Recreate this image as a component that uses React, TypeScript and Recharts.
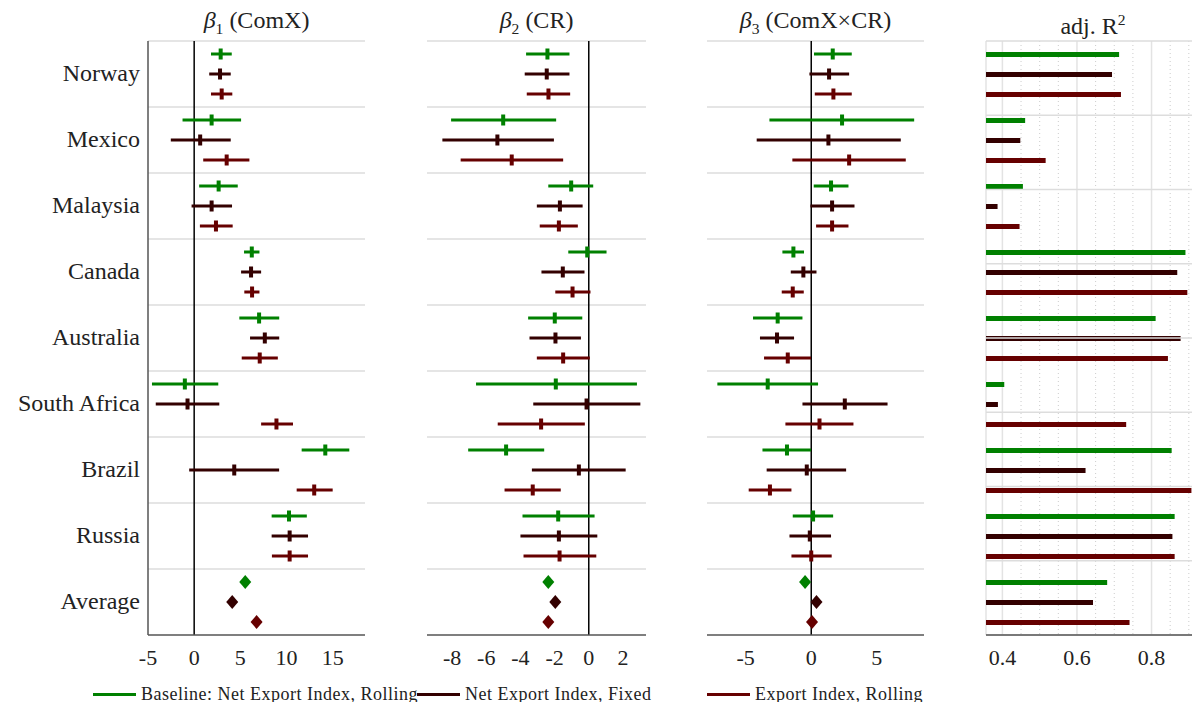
import React from 'react';
import {
  ScatterChart,
  Scatter,
  BarChart,
  Bar,
  XAxis,
  YAxis,
  ErrorBar,
  ReferenceLine,
  CartesianGrid,
} from 'recharts';

const COUNTRIES = ['Norway', 'Mexico', 'Malaysia', 'Canada', 'Australia', 'South Africa', 'Brazil', 'Russia'];
const ROWS = [...COUNTRIES, 'Average'];
const SERIES_NAMES = ['Baseline: Net Export Index, Rolling', 'Net Export Index, Fixed', 'Export Index, Rolling'];
const COLORS = ['#008000', '#330000', '#660000'];

// [estimate, lower, upper] per country
const B1_BASE = [[2.87, 1.82, 4.07], [1.89, -1.26, 5.08], [2.65, 0.54, 4.72], [6.24, 5.4, 7.07], [7.03, 4.89, 9.21], [-1.01, -4.57, 2.61], [14.2, 11.64, 16.8], [10.27, 8.39, 12.2]];
const B1_FIXED = [[2.8, 1.63, 3.96], [0.65, -2.53, 3.96], [1.89, -0.28, 4.1], [6.16, 5.08, 7.25], [7.65, 6.05, 9.21], [-0.72, -4.16, 2.72], [4.34, -0.54, 9.2], [10.34, 8.39, 12.33]];
const B1_EXPORT = [[2.98, 1.82, 4.13], [3.52, 0.98, 5.98], [2.36, 0.62, 4.17], [6.27, 5.43, 7.07], [7.1, 5.15, 9.06], [8.91, 7.25, 10.7], [13.0, 11.1, 15.0], [10.34, 8.42, 12.33]];
const B1_AVG = [5.53, 4.12, 6.76];

const B2_BASE = [[-2.42, -3.67, -1.13], [-5.01, -8.06, -1.91], [-1.03, -2.37, 0.26], [-0.09, -1.2, 1.04], [-1.99, -3.55, -0.38], [-1.93, -6.6, 2.82], [-4.84, -7.06, -2.61], [-1.79, -3.88, 0.34]];
const B2_FIXED = [[-2.46, -3.75, -1.13], [-5.35, -8.57, -2.04], [-1.69, -3.04, -0.36], [-1.52, -2.77, -0.25], [-1.95, -3.47, -0.46], [-0.13, -3.25, 3.02], [-0.58, -3.33, 2.16], [-1.75, -4.0, 0.5]];
const B2_EXPORT = [[-2.36, -3.63, -1.09], [-4.51, -7.5, -1.5], [-1.75, -2.87, -0.64], [-0.95, -1.96, 0.1], [-1.5, -3.04, 0.06], [-2.79, -5.33, -0.23], [-3.28, -4.93, -1.64], [-1.71, -3.82, 0.44]];
const B2_AVG = [-2.37, -1.96, -2.37];

const B3_BASE = [[1.64, 0.21, 3.09], [2.35, -3.19, 7.85], [1.51, 0.19, 2.84], [-1.36, -2.2, -0.55], [-2.56, -4.44, -0.67], [-3.32, -7.16, 0.52], [-1.85, -3.72, -0.01], [0.14, -1.41, 1.67]];
const B3_FIXED = [[1.36, -0.14, 2.89], [1.31, -4.16, 6.83], [1.59, -0.06, 3.3], [-0.6, -1.56, 0.4], [-2.61, -3.91, -1.31], [2.56, -0.67, 5.82], [-0.34, -3.4, 2.66], [-0.11, -1.66, 1.51]];
const B3_EXPORT = [[1.69, 0.27, 3.09], [2.89, -1.44, 7.21], [1.59, 0.37, 2.84], [-1.41, -2.25, -0.57], [-1.79, -3.6, -0.02], [0.63, -1.97, 3.22], [-3.15, -4.77, -1.51], [0, -1.51, 1.56]];
const B3_AVG = [-0.47, 0.4, 0.06];

// adj. R^2, countries then Average
const R2_BASE = [0.713, 0.461, 0.455, 0.891, 0.811, 0.405, 0.854, 0.862, 0.681];
const R2_FIXED = [0.694, 0.448, 0.387, 0.869, 0.878, 0.388, 0.623, 0.856, 0.643];
const R2_EXPORT = [0.718, 0.516, 0.446, 0.896, 0.844, 0.732, 0.907, 0.862, 0.741];

const B1_TICKS = [-5, 0, 5, 10, 15];
const B2_TICKS = [-8, -6, -4, -2, 0, 2];
const B3_TICKS = [-5, 0, 5];
const R2_TICKS = [0.4, 0.6, 0.8];
const R2_MINOR = [0.45, 0.5, 0.55, 0.65, 0.7, 0.75, 0.85, 0.9];

const FONT = "'Liberation Serif', 'Times New Roman', serif";
const CHART_H = 670;
const TOP = 41;
const SLOT = 20 / 66;
const ROW_LINES = ROWS.map((_, i) => i);
const LABEL_TICKS = ROWS.map((_, i) => i + 0.5);
const TICK_STYLE = { fontSize: 22, fill: '#222', fontFamily: FONT };
const AXIS_LINE = { stroke: '#555', strokeWidth: 1.5 };

const coefRows = (values: number[][], j: number) =>
  values.map(([est, lo, hi], i) => ({ x: est, y: i + 0.5 + (j - 1) * SLOT, err: [est - lo, hi - est] }));

const avgRow = (avg: number[], j: number) => [{ x: avg[j], y: COUNTRIES.length + 0.5 + (j - 1) * SLOT }];

const tickMark = (color: string) => (p: any) => (
  <rect x={p.cx - 2} y={p.cy - 5.5} width={4} height={11} fill={color} />
);

const diamond = (color: string) => (p: any) => (
  <path d={`M${p.cx},${p.cy - 7}L${p.cx + 6},${p.cy}L${p.cx},${p.cy + 7}L${p.cx - 6},${p.cy}Z`} fill={color} />
);

function RowLabel({ x, y, payload }: any) {
  return (
    <text x={x} y={y} dy="0.28em" textAnchor="end" fontSize={24} fill="#222" fontFamily={FONT}>
      {ROWS[Math.floor(payload.value)]}
    </text>
  );
}

interface CoefPanelProps {
  left: number;
  width: number;
  marginLeft: number;
  series: number[][][];
  avg: number[];
  domain: [number, number];
  ticks: number[];
  labels?: boolean;
}

function CoefPanel({ left, width, marginLeft, series, avg, domain, ticks, labels }: CoefPanelProps) {
  return (
    <div style={{ position: 'absolute', left, top: 0 }}>
      <ScatterChart width={width} height={CHART_H} margin={{ top: TOP, right: 0, bottom: 0, left: marginLeft }}>
        <XAxis
          type="number"
          dataKey="x"
          domain={domain}
          ticks={ticks}
          interval={0}
          allowDataOverflow
          height={35}
          tickLine={false}
          tickMargin={8}
          axisLine={AXIS_LINE}
          tick={TICK_STYLE}
        />
        <YAxis
          type="number"
          dataKey="y"
          domain={[0, ROWS.length]}
          reversed
          ticks={LABEL_TICKS}
          interval={0}
          hide={!labels}
          width={labels ? 148 : 0}
          tickLine={false}
          axisLine={AXIS_LINE}
          tick={<RowLabel />}
        />
        {ROW_LINES.map((v) => (
          <ReferenceLine key={v} y={v} stroke="#dddddd" strokeWidth={1.5} />
        ))}
        <ReferenceLine x={0} stroke="#000" strokeWidth={1.5} />
        {series.map((vals, j) => (
          <Scatter key={j} data={coefRows(vals, j)} fill={COLORS[j]} shape={tickMark(COLORS[j])} isAnimationActive={false}>
            <ErrorBar dataKey="err" direction="x" width={0} strokeWidth={3} stroke={COLORS[j]} />
          </Scatter>
        ))}
        {avg.map((_, j) => (
          <Scatter key={'a' + j} data={avgRow(avg, j)} fill={COLORS[j]} shape={diamond(COLORS[j])} isAnimationActive={false} />
        ))}
      </ScatterChart>
    </div>
  );
}

function R2Panel() {
  const data = ROWS.map((name, i) => ({ name, base: R2_BASE[i], fixed: R2_FIXED[i], exp: R2_EXPORT[i] }));
  return (
    <div style={{ position: 'absolute', left: 980, top: 0 }}>
      <BarChart
        layout="vertical"
        width={220}
        height={CHART_H}
        data={data}
        margin={{ top: TOP, right: 0, bottom: 0, left: 6 }}
        barSize={5}
        barGap={15}
      >
        <CartesianGrid horizontal={false} verticalValues={R2_MINOR} stroke="#cccccc" strokeDasharray="1 3" />
        <CartesianGrid horizontal={false} stroke="#e3e3e3" strokeWidth={1.5} />
        <XAxis
          type="number"
          domain={[0.356, 0.93]}
          ticks={R2_TICKS}
          interval={0}
          allowDataOverflow
          tickFormatter={(v: number) => v.toFixed(1)}
          height={35}
          tickLine={false}
          tickMargin={8}
          axisLine={AXIS_LINE}
          tick={TICK_STYLE}
        />
        <YAxis type="category" dataKey="name" hide width={0} />
        <YAxis yAxisId="g" type="number" domain={[0, ROWS.length]} reversed hide width={0} />
        {ROW_LINES.map((v) => (
          <ReferenceLine key={'r' + v} yAxisId="g" y={v} stroke="#dddddd" strokeWidth={1.5} />
        ))}
        <Bar dataKey="base" fill={COLORS[0]} isAnimationActive={false} />
        <Bar dataKey="fixed" fill={COLORS[1]} isAnimationActive={false} />
        <Bar dataKey="exp" fill={COLORS[2]} isAnimationActive={false} />
      </BarChart>
    </div>
  );
}

const titleStyle = (left: number, width: number): React.CSSProperties => ({
  position: 'absolute',
  left,
  width,
  top: 6,
  height: 28,
  lineHeight: '28px',
  textAlign: 'center',
  fontSize: 24,
  color: '#222',
  whiteSpace: 'nowrap',
});

const LEGEND_LEFT = [93, 417, 707];

export default function App() {
  return (
    <div style={{ position: 'relative', width: 1200, height: 710, margin: -8, fontFamily: FONT, background: '#fff', overflow: 'hidden' }}>
      <div style={titleStyle(148, 217)}>
        <i>β</i><sub style={{ fontSize: '0.65em' }}>1</sub> (ComX)
      </div>
      <div style={titleStyle(427, 219)}>
        <i>β</i><sub style={{ fontSize: '0.65em' }}>2</sub> (CR)
      </div>
      <div style={titleStyle(707, 217)}>
        <i>β</i><sub style={{ fontSize: '0.65em' }}>3</sub> (ComX×CR)
      </div>
      <div style={titleStyle(986, 214)}>
        adj. R<sup style={{ fontSize: '0.65em' }}>2</sup>
      </div>

      <CoefPanel left={0} width={365} marginLeft={0} series={[B1_BASE, B1_FIXED, B1_EXPORT]} avg={B1_AVG} domain={[-5, 18.5]} ticks={B1_TICKS} labels />
      <CoefPanel left={420} width={226} marginLeft={7} series={[B2_BASE, B2_FIXED, B2_EXPORT]} avg={B2_AVG} domain={[-9.47, 3.35]} ticks={B2_TICKS} />
      <CoefPanel left={700} width={224} marginLeft={7} series={[B3_BASE, B3_FIXED, B3_EXPORT]} avg={B3_AVG} domain={[-7.95, 8.6]} ticks={B3_TICKS} />
      <R2Panel />

      {SERIES_NAMES.map((name, j) => (
        <div key={name} style={{ position: 'absolute', left: LEGEND_LEFT[j], top: 684, height: 20, display: 'flex', alignItems: 'center', whiteSpace: 'nowrap' }}>
          <span style={{ display: 'inline-block', width: 43, height: 3, background: COLORS[j] }} />
          <span style={{ marginLeft: 5, fontSize: 18, letterSpacing: 0.5, color: '#222' }}>{name}</span>
        </div>
      ))}
    </div>
  );
}
